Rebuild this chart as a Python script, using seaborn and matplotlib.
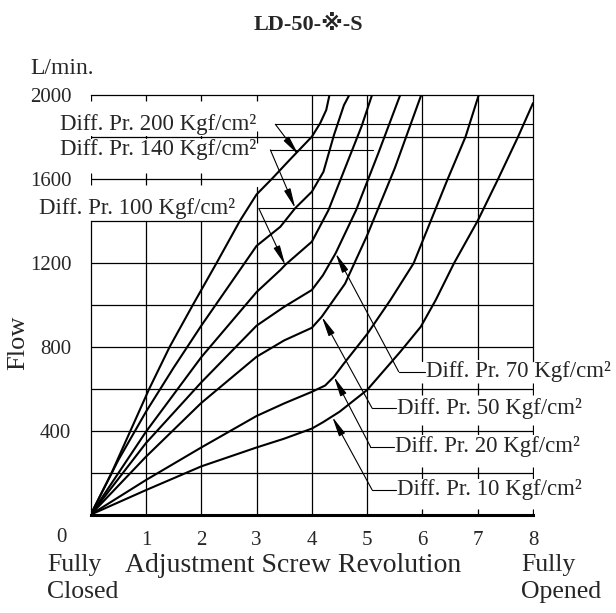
import numpy as np
import pandas as pd
import matplotlib.pyplot as plt
import seaborn as sns

# Flow (L/min) vs adjustment screw revolution, one curve per differential pressure
pressures = [10, 20, 50, 70, 100, 140, 200]

rev_10 = [0, 1, 2, 3, 3.5, 4, 4.2, 4.5, 5.0, 5.6, 5.97, 6.24, 6.57, 7.0, 7.36, 7.73, 8.0]
flow_10 = [0, 117, 230, 320, 362, 410, 440, 490, 594, 776, 895, 1022, 1197, 1400, 1594, 1800, 1960]

rev_20 = [0, 1, 2, 3, 3.5, 3.79, 4.0, 4.24, 4.4, 4.58, 5.0, 5.42, 5.84, 6.45, 6.78, 7.02]
flow_20 = [0, 165, 320, 470, 530, 562, 585, 615, 657, 720, 860, 1022, 1197, 1594, 1800, 2000]

rev_50 = [0, 1, 2, 3, 3.5, 4, 4.18, 4.6, 5.0, 5.5, 5.98]
flow_50 = [0, 276, 532, 752, 830, 890, 943, 1100, 1330, 1650, 2000]

rev_70 = [0, 1, 2, 3, 3.5, 4, 4.2, 4.43, 4.8, 5.2, 5.6]
flow_70 = [0, 341, 630, 900, 990, 1070, 1140, 1245, 1450, 1720, 2000]

rev_100 = [0, 1, 2, 3, 3.43, 3.52, 4.0, 4.3, 4.6, 4.9, 5.09]
flow_100 = [0, 395, 750, 1060, 1165, 1190, 1300, 1450, 1650, 1850, 2000]

rev_140 = [0, 0.5, 1, 1.5, 2, 2.5, 3, 3.43, 3.7, 4.0, 4.21, 4.4, 4.58, 4.68]
flow_140 = [0, 260, 490, 700, 900, 1090, 1280, 1371, 1460, 1538, 1633, 1808, 1950, 2000]

rev_200 = [0, 0.38, 0.72, 1.06, 1.43, 1.85, 2.28, 2.70, 3.0, 3.28, 3.6, 4.0, 4.15, 4.26, 4.32]
flow_200 = [0, 200, 400, 600, 800, 1000, 1200, 1400, 1525, 1600, 1690, 1800, 1864, 1927, 2000]

revs = [rev_10, rev_20, rev_50, rev_70, rev_100, rev_140, rev_200]
flows = [flow_10, flow_20, flow_50, flow_70, flow_100, flow_140, flow_200]

# label text position (left edge, centre), elbow of leader and arrow tip
label_pos = [(5.54, 118), (5.51, 324), (5.54, 507), (6.06, 681), (-0.93, 1459), (-0.56, 1737), (-0.56, 1859)]
elbow_pos = [(5.09, 118), (5.06, 324), (5.09, 507), (5.57, 681), (3.04, 1459), (3.25, 1737), (3.34, 1859)]
tip_pos = [(4.37, 466), (4.40, 657), (4.18, 943), (4.43, 1245), (3.52, 1188), (3.70, 1459), (3.76, 1713)]

x_ticks = [1, 2, 3, 4, 5, 6, 7, 8]
y_ticks = [400, 800, 1200, 1600, 2000]
y_grid = [200, 400, 600, 800, 1000, 1200, 1400, 1600, 1800]

frames = []
for p, xs, ys in zip(pressures, revs, flows):
    frames.append(pd.DataFrame({'rev': xs, 'flow': ys, 'pr': p}))
df = pd.concat(frames, ignore_index=True)

sns.set_theme(style='white')
plt.rcParams['font.family'] = ['Liberation Serif', 'DejaVu Serif', 'DejaVu Sans']
fs_tick = 15
fs_lab = 16.5

fig = plt.figure(figsize=(6.16, 6.13), dpi=100)
ax = fig.add_axes([0.1472, 0.1604, 0.7181, 0.6851])
ax.set_xlim(0, 8)
ax.set_ylim(0, 2000)

# grid: some verticals are cut where the labels sit
v_extent = {1: (0, 1400), 2: (0, 1400), 3: (0, 1560), 4: (0, 2000), 5: (0, 2000),
            6: (730, 2000), 7: (730, 2000)}
for xv, (lo, hi) in v_extent.items():
    ax.axvline(xv, ymin=lo / 2000, ymax=hi / 2000, color='black', lw=0.9, zorder=1)
for yv in y_grid:
    ax.axhline(yv, color='black', lw=0.9, zorder=1)

# little cross ticks where the verticals are hidden
cross = [(0, [1600, 1800, 2000]), (1, [1600, 1800, 2000]), (2, [1600, 1800, 2000]),
         (3, [1800, 2000]), (6, [0, 200, 400, 600]), (7, [0, 200, 400, 600]),
         (8, [0, 200, 400, 600])]
for xv, ys in cross:
    ax.plot([xv] * len(ys), ys, ls='none', marker='|', ms=9, mew=0.9, color='black', zorder=1.5)

sns.lineplot(data=df, x='rev', y='flow', hue='pr', units='pr', estimator=None, sort=False,
             palette=['black'] * len(pressures), lw=1.5, legend=False, ax=ax, zorder=3)

for p, lp, ep, tp in zip(pressures, label_pos, elbow_pos, tip_pos):
    ax.text(lp[0], lp[1], f'Diff. Pr. {p} Kgf/cm²', fontsize=fs_lab, ha='left', va='center',
            bbox=dict(facecolor='white', edgecolor='none', pad=0.5), zorder=2, clip_on=False)
    if lp[0] > ep[0]:
        ax.plot([lp[0] - 0.02, ep[0]], [lp[1], ep[1]], color='black', lw=0.8, zorder=2.5,
                clip_on=False)
    ax.annotate('', xy=tp, xytext=ep,
                arrowprops=dict(arrowstyle='-|>,head_length=1.0,head_width=0.17',
                                color='black', lw=0.8, shrinkA=0, shrinkB=0), zorder=2.5)

# stubs from label end to elbow for the upper-left labels
fig.canvas.draw()
for i in [4, 5, 6]:
    bb = ax.texts[i].get_window_extent()
    x_end = ax.transData.inverted().transform((bb.x1, bb.y0))[0]
    ax.plot([x_end + 0.02, elbow_pos[i][0]], [elbow_pos[i][1]] * 2, color='black', lw=0.8, zorder=2.5)

for s in ['top', 'left', 'right', 'bottom']:
    ax.spines[s].set_color('black')
    ax.spines[s].set_linewidth(0.9)
ax.spines['bottom'].set_linewidth(2.2)
ax.spines['left'].set_bounds(0, 1400)
ax.spines['right'].set_bounds(730, 2000)

ax.set_xticks(x_ticks)
ax.set_xticklabels([str(v) for v in x_ticks], fontsize=fs_tick)
ax.set_yticks(y_ticks)
ax.set_yticklabels([str(v) for v in y_ticks], fontsize=fs_tick)
ax.tick_params(length=0)
ax.tick_params(axis='x', pad=12)
ax.tick_params(axis='y', pad=14)
ax.set_xlabel('')
ax.set_ylabel('')
ax.annotate('0', xy=(0, 0), xytext=(-29, -23), textcoords='offset pixels',
            ha='center', va='center', fontsize=fs_tick)

fig.text(0.5, 0.959, 'LD-50-※-S', ha='center', va='center', fontsize=16, fontweight='bold',
         family=['Liberation Serif', 'DejaVu Sans'])
fig.text(0.049, 0.889, 'L/min.', ha='left', va='center', fontsize=17)
fig.text(0.03, 0.44, 'Flow', ha='center', va='center', rotation=90, fontsize=19)
fig.text(0.076, 1 - 565 / 613, 'Fully', ha='left', va='center', fontsize=18.5)
fig.text(0.076, 1 - 592 / 613, 'Closed', ha='left', va='center', fontsize=18.5)
fig.text(0.203, 1 - 565 / 613, 'Adjustment Screw Revolution', ha='left', va='center', fontsize=20)
fig.text(0.846, 1 - 565 / 613, 'Fully', ha='left', va='center', fontsize=18.5)
fig.text(0.846, 1 - 592 / 613, 'Opened', ha='left', va='center', fontsize=18.5)

fig.savefig('out.png', dpi=100)
